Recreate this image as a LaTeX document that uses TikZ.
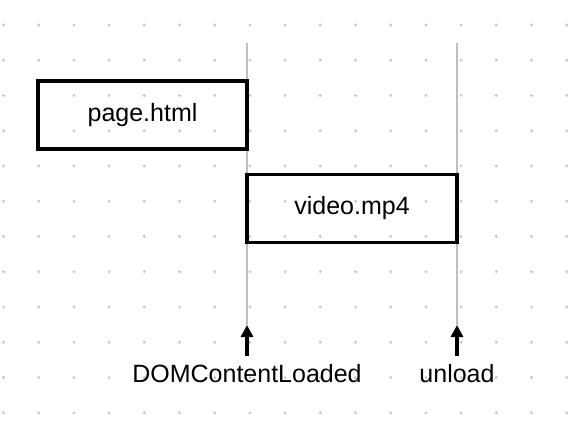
\documentclass[tikz,border=0pt]{standalone}
\usepackage{fontspec}
\setmainfont{Liberation Sans}
\usetikzlibrary{arrows.meta}
\tikzset{
  griddot/.style={fill=black!22, draw=none},
  lifeline/.style={draw=black!25, line width=2.6pt},
  filebox/.style={draw=black, line width=3.2pt, minimum height=68pt, inner sep=0pt, font=\fontsize{25}{28}\selectfont},
  evarrow/.style={draw=black, line width=3.2pt, -{Triangle[length=12pt,width=12pt]}},
  evlabel/.style={anchor=base, inner sep=0pt, font=\fontsize{25}{28}\selectfont}
}
\begin{document}
\begin{tikzpicture}[x=1pt,y=-1pt]
\useasboundingbox (0,0) rectangle (586,432);
\foreach \i in {0,...,16}{
  \foreach \j in {0,...,11}{
    \fill[griddot] (3.5+35.2*\i,25+35.25*\j) circle (1.6pt);
  }
}
\coordinate (l1top) at (247,43);
\coordinate (l1bot) at (247,325);
\coordinate (l2top) at (457,43);
\coordinate (l2bot) at (457,325);
\coordinate (a1) at (247,356);
\coordinate (a2) at (457,356);
\draw[lifeline] (l1top) -- (l1bot);
\draw[lifeline] (l2top) -- (l2bot);
\node[filebox, minimum width=209pt] (page) at (142.5,115) {page.html};
\node[filebox, minimum width=210pt] (video) at (352,208.5) {video.mp4};
\draw[evarrow] (a1) -- (l1bot);
\draw[evarrow] (a2) -- (l2bot);
\node[evlabel] (dcl) at (247,382) {DOMContentLoaded};
\node[evlabel] (unl) at (457,382) {unload};
\end{tikzpicture}
\end{document}
